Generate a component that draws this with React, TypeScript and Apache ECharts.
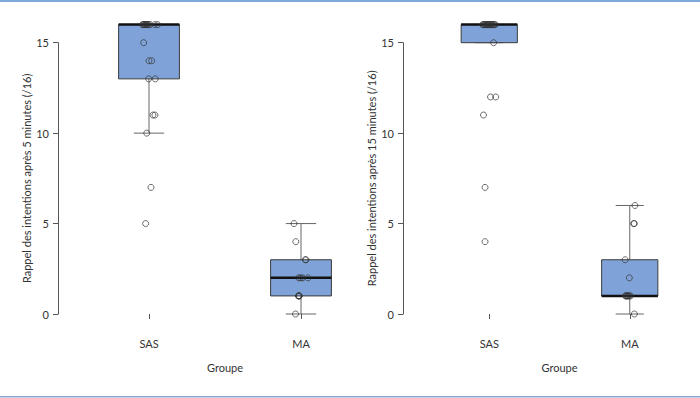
import React, { useEffect, useRef } from "react";
import * as echarts from "echarts";

// ---- data ----
const CATEGORIES = ["SAS", "MA"];
const Y_TITLE_5 = "Rappel des intentions après 5 minutes (/16)";
const Y_TITLE_15 = "Rappel des intentions après 15 minutes (/16)";
const X_TITLE = "Groupe";

// 5 minutes
const sas5 = [16, 16, 16, 16, 16, 16, 16, 16, 16, 16, 16, 16, 15, 14, 14, 13, 13, 11, 11, 10, 7, 5];
const sas5Jitter = [-0.043, -0.036, -0.033, -0.026, -0.023, -0.016, -0.013, -0.007, 0, 0.007, 0.039, 0.057, -0.035, 0, 0.018, -0.002, 0.041, 0.026, 0.039, -0.015, 0.013, -0.022];
const ma5 = [5, 4, 3, 3, 2, 2, 2, 2, 1, 1, 1, 1, 0];
const ma5Jitter = [-0.046, -0.034, 0.028, 0.033, -0.015, -0.003, 0.01, 0.046, -0.017, -0.015, -0.013, -0.011, -0.036];

// 15 minutes
const sas15 = [16, 16, 16, 16, 16, 16, 16, 16, 16, 16, 16, 16, 16, 16, 16, 16, 15, 12, 12, 11, 7, 4];
const sas15Jitter = [-0.047, -0.04, -0.034, -0.028, -0.023, -0.016, -0.012, -0.007, -0.001, 0.004, 0.01, 0.016, 0.022, 0.028, 0.036, 0.043, 0.031, 0.009, 0.046, -0.041, -0.03, -0.03];
const ma15 = [6, 5, 5, 3, 2, 1, 1, 1, 1, 1, 1, 1, 0];
const ma15Jitter = [0.037, 0.028, 0.033, -0.033, -0.003, -0.031, -0.026, -0.021, -0.016, -0.011, -0.004, 0.005, 0.033];

// ---- helpers ----
function fivenum(values: number[]): number[] {
  const x = [...values].sort((a, b) => a - b);
  const n = x.length;
  const n4 = Math.floor((n + 3) / 2) / 2;
  const d = [1, n4, (n + 1) / 2, n + 1 - n4, n];
  return d.map((p) => 0.5 * (x[Math.floor(p) - 1] + x[Math.ceil(p) - 1]));
}

function boxStats(values: number[], pos: number): number[] {
  const [, q1, med, q3] = fivenum(values);
  const iqr = q3 - q1;
  const lo = Math.min(...values.filter((v) => v >= q1 - 1.5 * iqr));
  const hi = Math.max(...values.filter((v) => v <= q3 + 1.5 * iqr));
  return [pos, lo, q1, med, q3, hi];
}

const BOX_HALF = 0.2;
const CAP_HALF = 0.1;
const FONT = "Lato, 'Open Sans', sans-serif";
const TEXT = "#333";
const AXIS = "#555";

function renderBox(_params: any, api: any) {
  const x = api.value(0);
  const lo = api.value(1);
  const q1 = api.value(2);
  const med = api.value(3);
  const q3 = api.value(4);
  const hi = api.value(5);
  const pLo = api.coord([x, lo]);
  const pQ1 = api.coord([x, q1]);
  const pQ3 = api.coord([x, q3]);
  const pHi = api.coord([x, hi]);
  const bl = api.coord([x - BOX_HALF, q3]);
  const br = api.coord([x + BOX_HALF, q1]);
  const cl = api.coord([x - CAP_HALF, lo])[0];
  const cr = api.coord([x + CAP_HALF, lo])[0];
  const pMedL = api.coord([x - BOX_HALF, med]);
  const pMedR = api.coord([x + BOX_HALF, med]);
  const wStyle = { stroke: "#666", lineWidth: 1 };
  return {
    type: "group",
    children: [
      { type: "line", shape: { x1: pLo[0], y1: pLo[1], x2: pQ1[0], y2: pQ1[1] }, style: wStyle },
      { type: "line", shape: { x1: pQ3[0], y1: pQ3[1], x2: pHi[0], y2: pHi[1] }, style: wStyle },
      { type: "line", shape: { x1: cl, y1: pLo[1], x2: cr, y2: pLo[1] }, style: wStyle },
      { type: "line", shape: { x1: cl, y1: pHi[1], x2: cr, y2: pHi[1] }, style: wStyle },
      {
        type: "rect",
        shape: { x: bl[0], y: bl[1], width: br[0] - bl[0], height: br[1] - bl[1] },
        style: { fill: "#7fa3d8", stroke: "#3a3a3a", lineWidth: 1 },
      },
      {
        type: "line",
        shape: { x1: pMedL[0], y1: pMedL[1], x2: pMedR[0], y2: pMedR[1] },
        style: { stroke: "#111", lineWidth: 2.5 },
      },
    ],
  };
}

function points(values: number[], jitter: number[], pos: number) {
  return values.map((v, i) => [pos + jitter[i], v]);
}

const panels = [
  { title: Y_TITLE_5, groups: [sas5, ma5], jitters: [sas5Jitter, ma5Jitter], left: 73, width: 304, offset: 15 },
  { title: Y_TITLE_15, groups: [sas15, ma15], jitters: [sas15Jitter, ma15Jitter], left: 419, width: 305, offset: 16 },
];

export default function App() {
  const ref = useRef<HTMLDivElement>(null);
  useEffect(() => {
    document.body.style.margin = "0";
    if (!ref.current) return;
    const chart = echarts.init(ref.current, undefined, { renderer: "svg" });

    const grid: any[] = [];
    const xAxis: any[] = [];
    const yAxis: any[] = [];
    const series: any[] = [];

    panels.forEach((p, g) => {
      grid.push({ left: p.left, width: p.width, top: 42.7, height: 271.3 });
      xAxis.push({
        type: "category",
        gridIndex: g,
        data: CATEGORIES,
        position: "bottom",
        offset: 14,
        axisLine: { show: false },
        axisTick: { show: true, alignWithLabel: true, length: 5, lineStyle: { color: AXIS } },
        axisLabel: { color: TEXT, fontSize: 11, fontFamily: FONT, margin: 10 },
        splitLine: { show: false },
        name: X_TITLE,
        nameLocation: "middle",
        nameGap: 34,
        nameTextStyle: { color: TEXT, fontSize: 11, fontFamily: FONT },
      });
      xAxis.push({ type: "value", gridIndex: g, min: 0.5, max: 2.5, show: false });
      yAxis.push({
        type: "value",
        gridIndex: g,
        min: 0,
        max: 15,
        interval: 5,
        offset: p.offset,
        axisLine: { show: true, lineStyle: { color: AXIS } },
        axisTick: { show: true, length: 5, lineStyle: { color: AXIS } },
        axisLabel: { color: TEXT, fontSize: 11, fontFamily: FONT, margin: 9 },
        splitLine: { show: false },
        name: p.title,
        nameLocation: "middle",
        nameGap: 25,
        nameTextStyle: { color: TEXT, fontSize: 11, fontFamily: FONT },
      });
      series.push({
        type: "custom",
        xAxisIndex: g * 2 + 1,
        yAxisIndex: g,
        clip: false,
        renderItem: renderBox,
        encode: { x: 0, y: [1, 2, 3, 4, 5] },
        data: p.groups.map((vals, i) => boxStats(vals, i + 1)),
        z: 2,
      });
      series.push({
        type: "scatter",
        xAxisIndex: g * 2 + 1,
        yAxisIndex: g,
        clip: false,
        symbol: "circle",
        symbolSize: 6,
        itemStyle: { color: "rgba(0,0,0,0)", borderColor: "#333", borderWidth: 0.9 },
        data: p.groups.flatMap((vals, i) => points(vals, p.jitters[i], i + 1)),
        z: 3,
      });
    });

    chart.setOption({
      animation: false,
      backgroundColor: "#fff",
      grid,
      xAxis,
      yAxis,
      series,
      graphic: [
        { type: "rect", shape: { x: 0, y: 0, width: 700, height: 2 }, style: { fill: "#7ea7dc" } },
        { type: "rect", shape: { x: 0, y: 396, width: 700, height: 1.5 }, style: { fill: "#8ea3c8" } },
      ],
    });
    return () => chart.dispose();
  }, []);
  return <div ref={ref} style={{ width: 700, height: 398 }} />;
}
